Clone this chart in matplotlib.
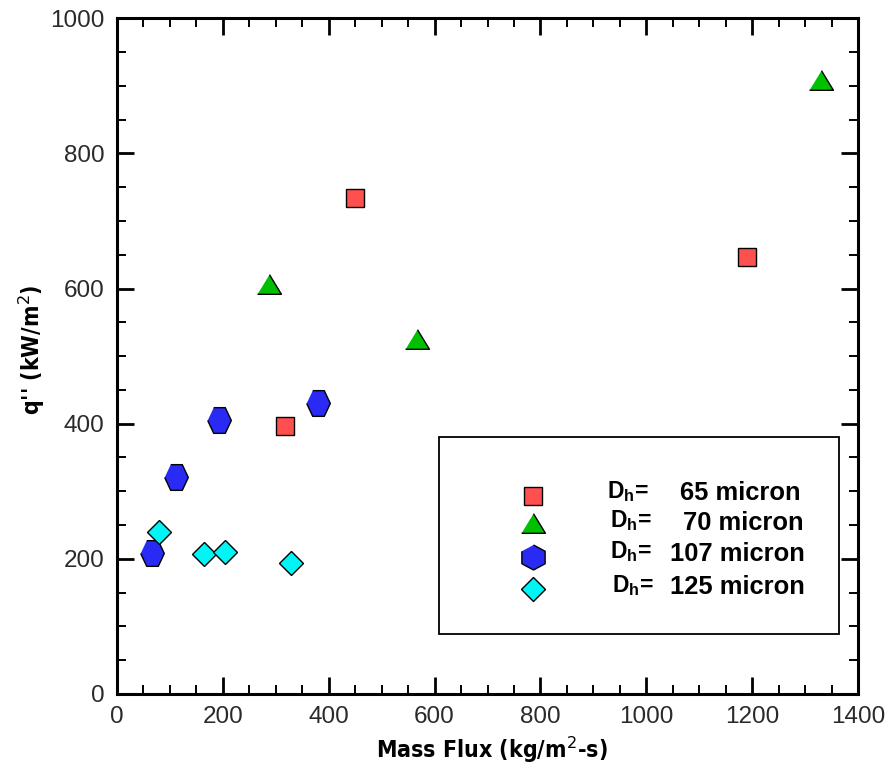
import matplotlib
matplotlib.use("Agg")
import matplotlib.pyplot as plt
from matplotlib import font_manager
from matplotlib.font_manager import FontProperties
from matplotlib.patches import Rectangle
from matplotlib.ticker import MultipleLocator

# ---------------- data ----------------
series_labels = ["65", "70", "107", "125"]

red_x = [449, 1190, 317]
red_y = [734, 646, 396]

green_x = [288, 566, 1330]
green_y = [607, 525, 909]

blue_x = [66, 112, 192, 380]
blue_y = [209, 321, 406, 431]

cyan_x = [80, 164, 205, 328]
cyan_y = [240, 207, 210, 194]

x_ticks = [0, 200, 400, 600, 800, 1000, 1200, 1400]
y_ticks = [0, 200, 400, 600, 800, 1000]

# ---------------- fonts ----------------
plt.rcParams["font.family"] = ["Liberation Sans", "DejaVu Sans"]
cands = [f for f in font_manager.fontManager.ttflist
         if (f.weight == 700 or f.weight == "bold")
         and f.stretch in ("condensed", "semi-condensed", 300, 400)
         and f.style == "normal"]
pref = ["Liberation Sans Narrow", "DejaVu Sans", "Roboto Condensed", "Open Sans"]
cands.sort(key=lambda f: pref.index(f.name) if f.name in pref else 99)
if cands:
    label_fp = FontProperties(fname=cands[0].fname)
    label_size = 16.6
else:
    label_fp = FontProperties(family="Liberation Sans", weight="bold")
    label_size = 16.5
label_fp.set_size(label_size)
plt.rcParams["mathtext.fontset"] = "custom"
plt.rcParams["mathtext.rm"] = "Liberation Sans:bold"
plt.rcParams["mathtext.bf"] = "Liberation Sans:bold"

# ---------------- marker shapes ----------------
tri = [(-1, -0.82), (1, -0.82), (0, 0.82)]
hex_data = [(-0.45, 1), (0.45, 1), (0.92, 0), (0.45, -1), (-0.45, -1), (-0.92, 0)]
hex_leg = [(0, 1), (0.93, 0.5), (0.93, -0.5), (0, -1), (-0.93, -0.5), (-0.93, 0.5)]

c_red, c_green, c_blue, c_cyan = "#FF5050", "#00C000", "#2A2AF5", "#00F5F5"

fig = plt.figure(figsize=(8.91, 7.71), dpi=100)
ax = fig.add_axes([0.1313, 0.0999, 0.8317, 0.8764])

kw = dict(linestyle="none", markeredgecolor="black", markeredgewidth=1.0, zorder=3)
ax.plot(red_x, red_y, marker="s", markersize=12.3, markerfacecolor=c_red, **kw)
ax.plot(green_x, green_y, marker=tri, markersize=17.2, markerfacecolor=c_green, **kw)
ax.plot(blue_x, blue_y, marker=hex_data, markersize=18.5, markerfacecolor=c_blue, **kw)
ax.plot(cyan_x, cyan_y, marker="D", markersize=12.2, markerfacecolor=c_cyan, **kw)

ax.set_xlim(0, 1400)
ax.set_ylim(0, 1000)
ax.set_xticks(x_ticks)
ax.set_yticks(y_ticks)
ax.xaxis.set_minor_locator(MultipleLocator(50))
ax.yaxis.set_minor_locator(MultipleLocator(50))

for s in ax.spines.values():
    s.set_linewidth(2.2)

ax.tick_params(which="both", direction="in", top=True, right=True,
               colors="black", labelcolor="#2a2a2a")
ax.tick_params(which="major", length=12, width=2.0, labelsize=17.5, pad=9)
ax.tick_params(which="minor", length=6.5, width=1.4)

ax.set_xlabel(r"Mass Flux (kg/m$^{2}$-s)", fontproperties=label_fp)
ax.set_ylabel(r"q'' (kW/m$^{2}$)", fontproperties=label_fp)
ax.xaxis.set_label_coords(0.506, -0.083)
ax.xaxis.label.set_va("center")
ax.yaxis.set_label_coords(-0.115, 0.509)
ax.yaxis.label.set_va("center")

# ---------------- legend (manual box) ----------------
ax.add_patch(Rectangle((0.4345, 0.0888), 0.5395, 0.2918, transform=ax.transAxes,
                       facecolor="white", edgecolor="black", linewidth=1.3, zorder=4))
leg_markers = [("s", 13.2, c_red), (tri, 17.2, c_green), (hex_leg, 18.0, c_blue), ("D", 12.2, c_cyan)]
mk_y = [0.2929, 0.2525, 0.2031, 0.1548]
tx_y = [0.2969, 0.2530, 0.2071, 0.1578]
dh_x = [0.661, 0.665, 0.665, 0.668]
num_x = [0.922, 0.927, 0.928, 0.928]
for i, (m, ms, col) in enumerate(leg_markers):
    ax.plot([0.5614], [mk_y[i]], transform=ax.transAxes, marker=m, markersize=ms,
            markerfacecolor=col, markeredgecolor="black", markeredgewidth=1.0,
            linestyle="none", zorder=5, clip_on=False)
    ax.text(dh_x[i], tx_y[i] + 0.003, r"D$_{\mathbf{h}}$=", transform=ax.transAxes,
            fontsize=16.5, fontweight="bold", ha="left", va="center", zorder=6)
    ax.text(num_x[i], tx_y[i], series_labels[i] + " micron", transform=ax.transAxes,
            fontsize=18.4, fontweight="bold", ha="right", va="center", zorder=6)

fig.savefig("out.png", dpi=100)
